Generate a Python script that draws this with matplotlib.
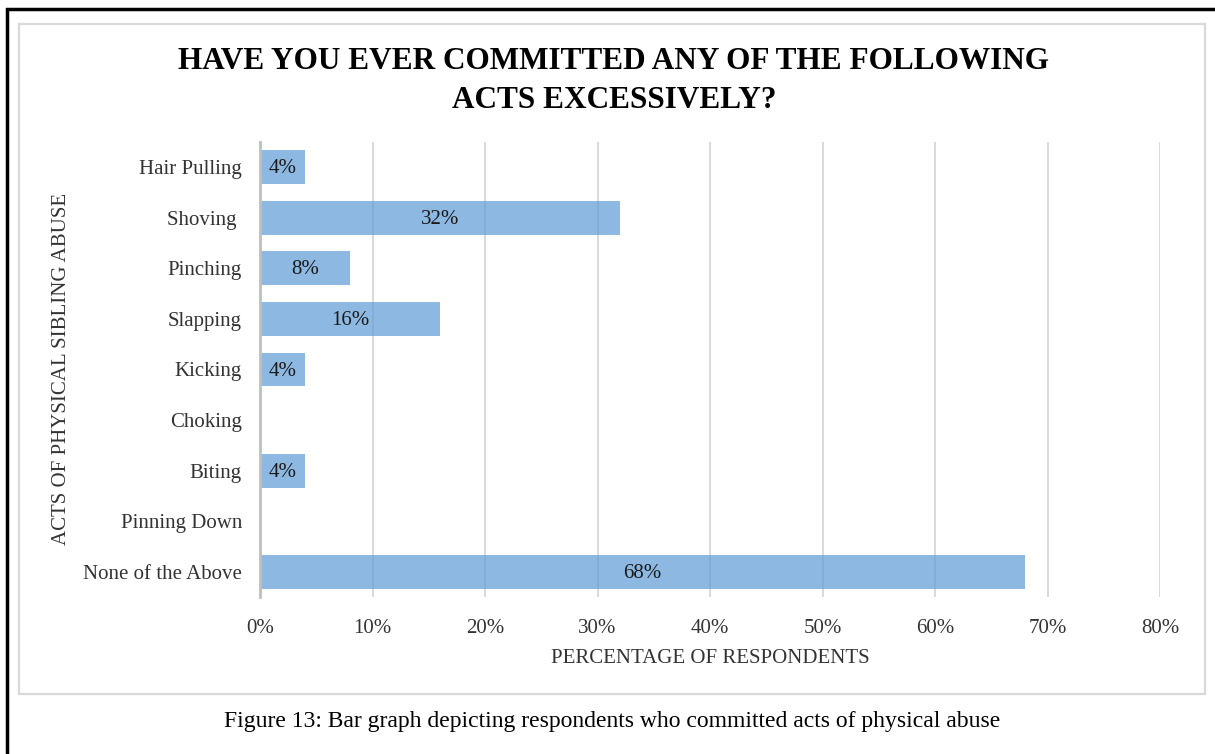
import matplotlib.pyplot as plt
import matplotlib.patches as mpatches
from matplotlib.ticker import FuncFormatter

# survey data
acts = ["Hair Pulling", "Shoving ", "Pinching", "Slapping", "Kicking",
        "Choking", "Biting", "Pinning Down", "None of the Above"]
percent = [4, 32, 8, 16, 4, 0, 4, 0, 68]
x_ticks = [0, 10, 20, 30, 40, 50, 60, 70, 80]

plt.rcParams["font.family"] = ["Liberation Serif", "DejaVu Serif"]

W, H = 1215, 754
fig = plt.figure(figsize=(W / 100, H / 100), dpi=100)
fig.patch.set_facecolor("white")

# page frame (black) and chart frame (grey)
fig.add_artist(mpatches.Rectangle((7 / W, -0.05), 1.2, 1 - 9 / H + 0.05,
                                  transform=fig.transFigure, fill=False,
                                  edgecolor="black", linewidth=2.5))
fig.add_artist(mpatches.Rectangle((19 / W, 1 - 694 / H), (1205 - 19) / W,
                                  (694 - 24) / H, transform=fig.transFigure,
                                  fill=False, edgecolor="#d9d9d9", linewidth=1.6))

ax = fig.add_axes([260 / W, 1 - 597 / H, 900 / W, 455 / H])

y = list(range(len(acts)))
ax.barh(y, percent, height=0.67, color="#5B9BD5", alpha=0.7, zorder=2)

for yi, v in zip(y, percent):
    if v > 0:
        ax.text(v / 2, yi + 0.03, f"{v}%", ha="center", va="center",
                fontsize=15, color="#1a1a1a", zorder=3)

ax.set_xlim(0, 80)
ax.set_ylim(len(acts) - 0.5, -0.5)
ax.set_xticks(x_ticks)
ax.xaxis.set_major_formatter(FuncFormatter(lambda v, p: f"{v:.0f}%"))
ax.set_yticks(y)
ax.set_yticklabels(acts)
ax.tick_params(axis="both", length=0, labelsize=15, colors="#333333")
ax.tick_params(axis="x", pad=16)
ax.tick_params(axis="y", pad=13)

ax.grid(axis="x", color="#d9d9d9", linewidth=1.4, zorder=1)
ax.set_axisbelow(True)
for s in ["top", "right", "bottom"]:
    ax.spines[s].set_visible(False)
ax.spines["left"].set_color("#bfbfbf")
ax.spines["left"].set_linewidth(2)
ax.spines["left"].set_zorder(4)

ax.set_xlabel("PERCENTAGE OF RESPONDENTS", fontsize=15, color="#333333",
              labelpad=8)

fig.text(62 / W, 1 - 369 / H, "ACTS OF PHYSICAL SIBLING ABUSE", rotation=90,
         ha="center", va="center", fontsize=15, color="#333333")

fig.text(614 / W, 1 - 81 / H, "HAVE YOU EVER COMMITTED ANY OF THE FOLLOWING\nACTS EXCESSIVELY?",
         ha="center", va="center", fontsize=22.5, fontweight="bold",
         linespacing=1.42, color="black")

fig.text(612 / W, 1 - 722 / H,
         "Figure 13: Bar graph depicting respondents who committed acts of physical abuse",
         ha="center", va="center", fontsize=17, color="black")

fig.savefig("out.png", dpi=100, facecolor="white")
